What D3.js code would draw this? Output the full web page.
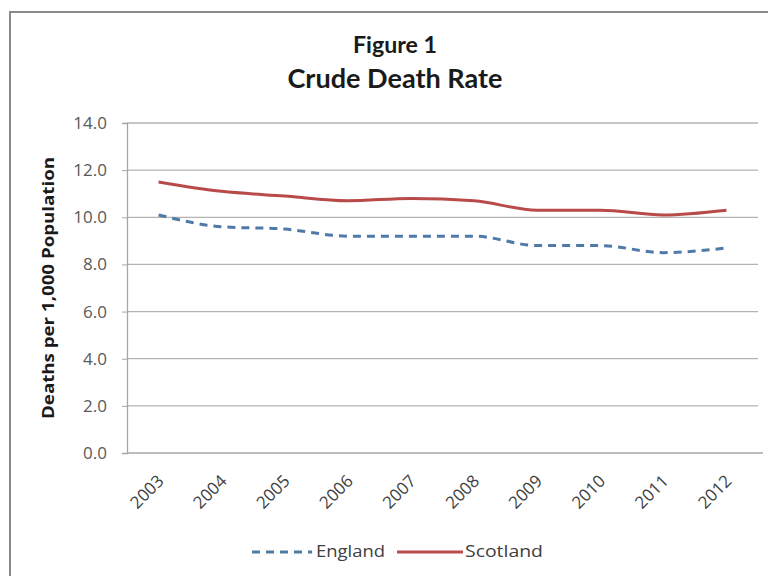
<!DOCTYPE html>
<html><head><meta charset="utf-8">
<script src="https://cdn.jsdelivr.net/npm/d3@7"></script>
<style>body{margin:0;background:#fff}svg{display:block}</style>
</head><body>
<svg id="chart" width="768" height="576"></svg>
<script>
const years = ["2003","2004","2005","2006","2007","2008","2009","2010","2011","2012"];
const england = [10.1, 9.6, 9.5, 9.2, 9.2, 9.2, 8.8, 8.8, 8.5, 8.7];
const scotland = [11.5, 11.1, 10.9, 10.7, 10.8, 10.7, 10.3, 10.3, 10.1, 10.3];
const yTicks = [0, 2, 4, 6, 8, 10, 12, 14];
const seriesNames = ["England", "Scotland"];

const svg = d3.select("#chart");
const font = "'Open Sans', Lato, sans-serif";
const tfont = "Lato, 'Open Sans', sans-serif";
const m = {left: 127, right: 758, top: 123, bottom: 453};

svg.append("rect").attr("x", 10).attr("y", 12).attr("width", 800).attr("height", 700)
  .attr("fill", "#fff").attr("stroke", "#8a8a8a").attr("stroke-width", 2);

const x = d3.scaleBand().domain(years).range([m.left, m.right]);
const y = d3.scaleLinear().domain([0, 14]).range([m.bottom, m.top]);

// gridlines
svg.append("g").selectAll("line").data(yTicks.filter(d => d > 0)).join("line")
  .attr("x1", m.left).attr("x2", m.right)
  .attr("y1", d => y(d)).attr("y2", d => y(d))
  .attr("stroke", "#b3b3b3").attr("stroke-width", 1.3);

// y axis
const yAxis = svg.append("g").attr("transform", `translate(${m.left},0)`)
  .call(d3.axisLeft(y).tickValues(yTicks).tickFormat(d3.format(".1f")).tickSize(5).tickPadding(15));
yAxis.select(".domain").attr("stroke", "#a6a6a6").attr("stroke-width", 1.3);
yAxis.selectAll(".tick line").attr("stroke", "#a6a6a6");
yAxis.selectAll("text").attr("font-family", font).attr("font-size", 17).attr("fill", "#595959");

// x axis
const xAxis = svg.append("g").attr("transform", `translate(0,${m.bottom})`)
  .call(d3.axisBottom(x).tickSize(0).tickPadding(0));
xAxis.select(".domain").attr("d", `M${m.left},0H763`).attr("stroke", "#a6a6a6").attr("stroke-width", 1.3);
xAxis.selectAll(".tick text")
  .attr("font-family", font).attr("font-size", 17).attr("fill", "#404040")
  .attr("text-anchor", "end").attr("dy", null)
  .attr("transform", "translate(3,26) rotate(-45)")
  .attr("dominant-baseline", "middle");

// lines
const line = d3.line().x((d, i) => x(years[i]) + x.bandwidth() / 2).y(d => y(d)).curve(d3.curveMonotoneX);
svg.append("path").datum(scotland).attr("d", line)
  .attr("fill", "none").attr("stroke", "#b94a4a").attr("stroke-width", 3);
svg.append("path").datum(england).attr("d", line)
  .attr("fill", "none").attr("stroke", "#4f7aa8").attr("stroke-width", 3).attr("stroke-dasharray", "8,6");

// titles
svg.append("text").attr("x", 395).attr("y", 53).attr("text-anchor", "middle")
  .attr("font-family", tfont).attr("font-weight", "bold").attr("font-size", 22).attr("fill", "#1a1a1a")
  .attr("textLength", 84).attr("lengthAdjust", "spacingAndGlyphs")
  .text("Figure 1");
svg.append("text").attr("x", 395).attr("y", 88).attr("text-anchor", "middle")
  .attr("font-family", tfont).attr("font-weight", "bold").attr("font-size", 26).attr("fill", "#1a1a1a")
  .attr("textLength", 215).attr("lengthAdjust", "spacingAndGlyphs")
  .text("Crude Death Rate");

svg.append("text").attr("transform", `translate(50,${(m.top + m.bottom) / 2}) rotate(-90)`)
  .attr("text-anchor", "middle").attr("dominant-baseline", "middle").attr("font-family", font).attr("font-weight", "bold")
  .attr("font-size", 16).attr("fill", "#1a1a1a")
  .attr("textLength", 262).attr("lengthAdjust", "spacingAndGlyphs")
  .text("Deaths per 1,000 Population");

// legend
const legend = [
  {name: seriesNames[0], x1: 252, x2: 312, tx: 316, tl: 69, color: "#4f7aa8", dash: "8,6"},
  {name: seriesNames[1], x1: 397, x2: 463, tx: 465, tl: 78, color: "#b94a4a", dash: null}
];
const lg = svg.append("g").selectAll("g").data(legend).join("g");
lg.append("line").attr("x1", d => d.x1).attr("x2", d => d.x2).attr("y1", 552).attr("y2", 552)
  .attr("stroke", d => d.color).attr("stroke-width", 3).attr("stroke-dasharray", d => d.dash);
lg.append("text").attr("x", d => d.tx).attr("y", 552).attr("dominant-baseline", "middle")
  .attr("font-family", font).attr("font-size", 17).attr("fill", "#404040")
  .attr("textLength", d => d.tl).attr("lengthAdjust", "spacingAndGlyphs").text(d => d.name);
</script>
</body></html>
